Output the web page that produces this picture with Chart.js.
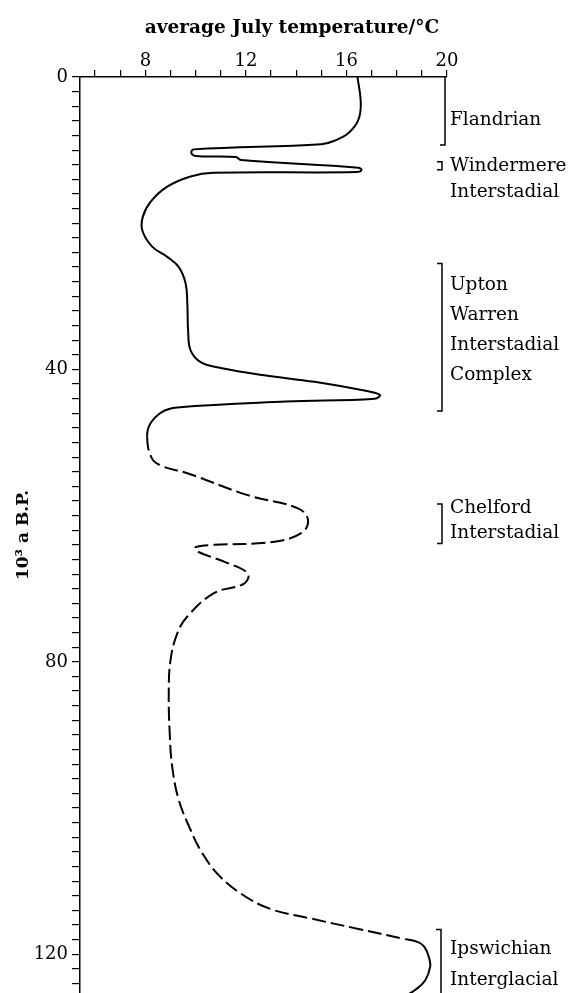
<!DOCTYPE html>
<html><head><meta charset="utf-8">
<script src="https://cdn.jsdelivr.net/npm/chart.js@4"></script>
<style>html,body{margin:0;padding:0;background:#fff}#wrap{width:568px;height:993px;position:relative}</style>
</head><body><div id="wrap"><canvas id="c"></canvas></div>
<script>
// age in 10^3 a B.P.
const ages = [0,3.6,5.9,7.7,8.7,9.2,9.9,10.4,10.8,10.95,11.36,12.4,12.7,13.0,13.1,13.6,15.0,17.1,19.1,21.0,23.2,24.6,26.0,28.2,31.0,34.6,37.4,39.0,39.8,40.8,41.7,43.0,43.5,44.0,44.4,45.2,45.8,47.4,49.2,52.1,53.2,54.2,57.2,59.0,60.6,62.4,63.6,64.0,64.3,64.9,66.3,67.9,69.3,70.6,73.8,76.1,79.8,84.3,89.8,94.4,98.9,103.0,105.8,109.0,111.7,113.8,115.1,116.5,117.9,118.35,119.0,120.4,121.7,123.6,124.9,125.6];
// average July temperature / °C
const temps = [16.44,16.57,16.47,16.07,15.53,15.0,9.92,9.83,10.0,11.6,11.8,16.47,16.6,16.4,10.7,9.8,8.87,8.2,7.9,7.88,8.27,8.87,9.33,9.6,9.67,9.7,9.8,10.2,11.0,12.73,14.73,16.87,17.33,17.13,13.6,9.27,8.67,8.2,8.07,8.25,8.65,9.67,12.07,14.07,14.47,14.2,13.07,10.73,10.0,10.07,11.13,12.07,11.93,10.73,9.67,9.27,9.0,8.93,8.97,9.07,9.33,9.8,10.2,10.87,11.8,12.97,14.57,16.43,18.29,18.85,19.1,19.28,19.33,19.13,18.73,18.4];
// part of the record that is drawn dashed (uncertain)
const dashedFrom = 49.2;
const dashedTo = 118.35;

const xTicks = [6,7,8,9,10,11,12,13,14,15,16,17,18,19,20];
const xTickLabels = [8,12,16,20];
const yTicks = [0,2,4,6,8,10,12,14,16,18,20,22,24,26,28,30,32,34,36,38,40,42,44,46,48,50,52,54,56,58,60,62,64,66,68,70,72,74,76,78,80,82,84,86,88,90,92,94,96,98,100,102,104,106,108,110,112,114,116,118,120,122,124];
const yTickLabels = [0,40,80,120];

const periodNames = [["Flandrian"],["Windermere","Interstadial"],["Upton","Warren","Interstadial","Complex"],["Chelford","Interstadial"],["Ipswichian","Interglacial"]];
const periodFrom = [0,11.6,25.5,58.4,116.6];
const periodTo = [9.3,12.7,45.7,63.8,127];

const xTitle = "average July temperature/°C";
const yTitle = "10³ a B.P.";

const SERIF = "'DejaVu Serif', 'Liberation Serif', serif";

const annot = {
  id: 'annot',
  afterDraw(chart, args, opts) {
    const ctx = chart.ctx, xs = chart.scales.x, ys = chart.scales.y;
    ctx.save();
    ctx.fillStyle = '#000';
    ctx.font = 'bold ' + opts.titleSize + 'px ' + SERIF;
    ctx.textAlign = 'center';
    ctx.textBaseline = 'middle';
    ctx.fillText(xTitle, opts.titleX, opts.titleY);
    ctx.strokeStyle = '#000';
    ctx.lineWidth = 1.5;
    const area = chart.chartArea;
    for (let i = 0; i < periodNames.length; i++) {
      const bx = xs.right + opts.bracketDx[i];
      const y0 = Math.max(ys.getPixelForValue(periodFrom[i]), area.top);
      const y1 = Math.min(ys.getPixelForValue(periodTo[i]), area.bottom + 2);
      ctx.beginPath();
      if (periodFrom[i] > 0) { ctx.moveTo(bx - opts.hook, y0); ctx.lineTo(bx, y0); } else { ctx.moveTo(bx, y0); }
      ctx.lineTo(bx, y1);
      if (periodTo[i] < ys.max) ctx.lineTo(bx - opts.hook, y1);
      ctx.stroke();
      ctx.font = opts.labelSize + 'px ' + SERIF;
      ctx.textAlign = 'left';
      const firstY = ys.getPixelForValue(opts.labelAge[i]);
      periodNames[i].forEach((t, k) => {
        ctx.fillText(t, xs.right + opts.labelDx, firstY + k * opts.lineGap[i]);
      });
    }
    ctx.restore();
  }
};

new Chart(document.getElementById('c'), {
  type: 'line',
  data: {
    datasets: [{
      data: ages.map((a, i) => ({x: temps[i], y: a})),
      borderColor: '#000',
      borderWidth: 2,
      pointRadius: 0,
      fill: false,
      tension: 0.4,
      segment: {
        borderDash: c => (c.p0.parsed.y >= dashedFrom - 1e-6 && c.p1.parsed.y <= dashedTo + 1e-6) ? [14, 5] : undefined
      }
    }]
  },
  options: {
    indexAxis: 'y',
    responsive: true,
    maintainAspectRatio: false,
    animation: false,
    layout: {padding: {left: 0, top: 0, right: 121, bottom: 0}},
    plugins: {
      legend: {display: false},
      tooltip: {enabled: false},
      annot: {
        titleSize: 18.5, titleX: 292, titleY: 28,
        labelSize: 18.5, labelDx: 3, hook: 5,
        bracketDx: [-2, -5, -5, -5, -6],
        labelAge: [5.9, 12.2, 28.5, 59.0, 119.3],
        lineGap: [0, 26, 30, 25, 31]
      }
    },
    scales: {
      x: {
        type: 'linear', position: 'top', min: 5.4, max: 20,
        afterBuildTicks: s => { s.ticks = xTicks.map(v => ({value: v})); },
        afterFit: s => { s.height = 77; s.paddingLeft = 0; s.paddingRight = 0; },
        ticks: {
          autoSkip: false, maxRotation: 0, padding: -2, color: '#000',
          font: {family: SERIF, size: 18},
          callback: v => xTickLabels.includes(v) ? String(v) : ''
        },
        grid: {drawOnChartArea: false, drawTicks: true, tickLength: 7, color: '#000', lineWidth: 1.2},
        border: {display: true, color: '#000', width: 1.5}
      },
      y: {
        type: 'linear', position: 'left', reverse: true, min: 0, max: 125.3,
        afterBuildTicks: s => { s.ticks = yTicks.map(v => ({value: v})); },
        afterFit: s => { s.width = 80; s.paddingTop = 0; s.paddingBottom = 0; },
        ticks: {
          autoSkip: false, padding: 4, color: '#000',
          font: {family: SERIF, size: 18},
          callback: v => yTickLabels.includes(v) ? String(v) : ''
        },
        grid: {drawOnChartArea: false, drawTicks: true, tickLength: 8, color: '#000', lineWidth: 1.2},
        border: {display: true, color: '#000', width: 1.5},
        title: {display: true, text: yTitle, color: '#000', font: {family: SERIF, size: 17, weight: 'bold'}, padding: {top: 13, bottom: 0}}
      }
    }
  },
  plugins: [annot]
});
</script>
</body></html>
